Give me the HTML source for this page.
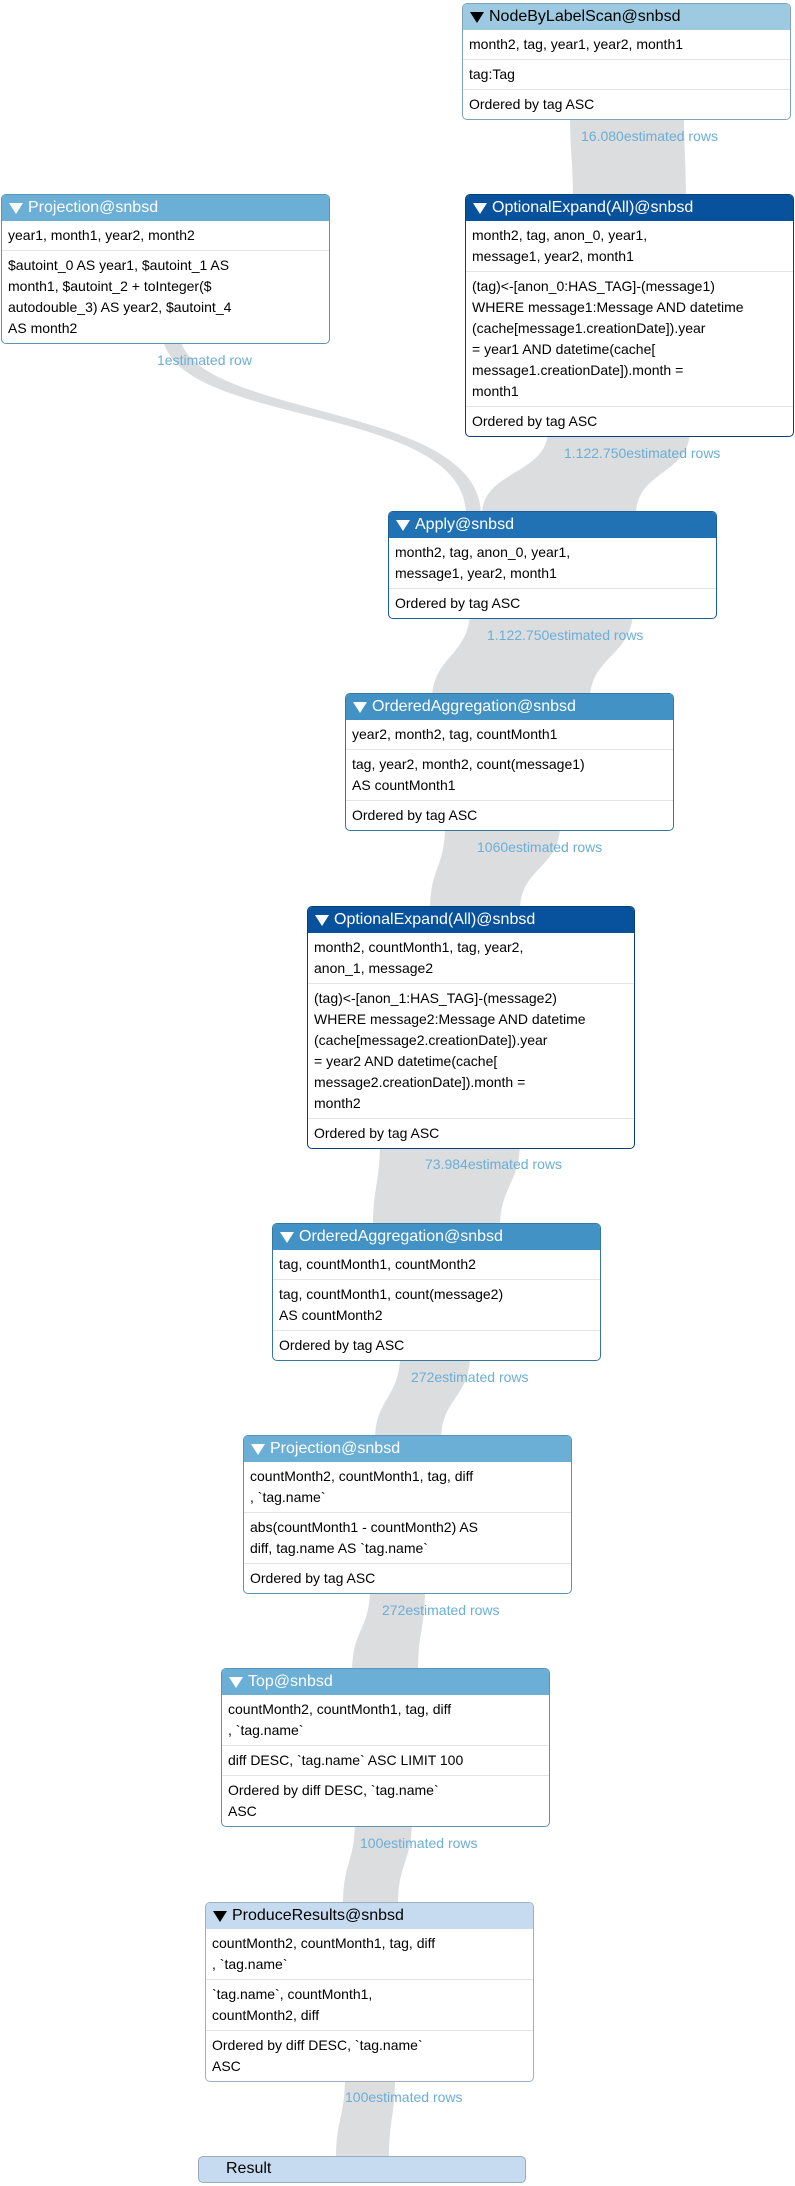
<!DOCTYPE html>
<html><head><meta charset="utf-8">
<style>
html,body{margin:0;padding:0;background:#fff;}
body{width:795px;height:2186px;position:relative;overflow:hidden;font-family:"Liberation Sans",sans-serif;}
svg.links{position:absolute;left:0;top:0;}
.box{position:absolute;width:326px;background:#fff;border:1.5px solid #2b5f8c;border-radius:5px;overflow:hidden;box-sizing:border-box;}
.hd{height:26px;line-height:26px;font-size:16px;color:#fff;padding-left:26px;position:relative;white-space:nowrap;}
.hd:before{content:"";position:absolute;left:7px;top:8px;border-left:7px solid transparent;border-right:7px solid transparent;border-top:11px solid currentColor;}
.r{font-size:14px;line-height:21px;padding:4px 6px 4px 6px;white-space:nowrap;color:#000;}
.r+.r{border-top:1.5px solid #e4e4e4;}
.lbl{position:absolute;font-size:14px;color:#6baed6;white-space:nowrap;}
</style></head><body>
<svg class="links" width="795" height="2186">
<g fill="#dcdddf">
<path d="M570 110 C570 157 573 157 573 200 L686 200 C686 157 684 157 684 110 Z"/>
<path d="M162 330 C162 430 466 400 466 515 L481 515 C481 400 179 420 179 330 Z"/>
<path d="M548 430 C548 475 482 470 482 515 L636 515 C636 470 690 475 690 430 Z"/>
<path d="M470 610 C470 656 432 656 432 700 L590 700 C590 656 633 656 633 610 Z"/>
<path d="M445 825 C445 868 430 868 430 910 L520 910 C520 868 560 868 560 825 Z"/>
<path d="M380 1140 C380 1185 373 1185 373 1228 L500 1228 C500 1185 520 1185 520 1140 Z"/>
<path d="M400 1355 C400 1398 375 1398 375 1440 L441 1440 C441 1398 470 1398 470 1355 Z"/>
<path d="M370 1588 C370 1630 352 1630 352 1672 L418 1672 C418 1630 425 1630 425 1588 Z"/>
<path d="M355 1820 C355 1862 343 1862 343 1906 L398 1906 C398 1862 412 1862 412 1820 Z"/>
<path d="M345 2075 C345 2118 336 2118 336 2160 L389 2160 C389 2118 395 2118 395 2075 Z"/>
</g>
</svg>

<div class="box" style="left:462px;top:3px;width:329px;border-color:#7fa3bd;">
<div class="hd" style="background:#9ecae1;color:#000;">NodeByLabelScan@snbsd</div>
<div class="r">month2, tag, year1, year2, month1</div>
<div class="r">tag:Tag</div>
<div class="r">Ordered by tag ASC</div>
</div>
<div class="lbl" style="left:581px;top:128px;">16.080estimated rows</div>

<div class="box" style="left:1px;top:194px;width:329px;border-color:#5a93b5;">
<div class="hd" style="background:#6baed6;">Projection@snbsd</div>
<div class="r">year1, month1, year2, month2</div>
<div class="r">$autoint_0 AS year1, $autoint_1 AS<br>month1, $autoint_2 + toInteger($<br>autodouble_3) AS year2, $autoint_4<br>AS month2</div>
</div>
<div class="lbl" style="left:157px;top:352px;">1estimated row</div>

<div class="box" style="left:465px;top:194px;width:329px;border-color:#083f7a;">
<div class="hd" style="background:#08519c;">OptionalExpand(All)@snbsd</div>
<div class="r">month2, tag, anon_0, year1,<br>message1, year2, month1</div>
<div class="r">(tag)&lt;-[anon_0:HAS_TAG]-(message1)<br>WHERE message1:Message AND datetime<br>(cache[message1.creationDate]).year<br>= year1 AND datetime(cache[<br>message1.creationDate]).month =<br>month1</div>
<div class="r">Ordered by tag ASC</div>
</div>
<div class="lbl" style="left:564px;top:445px;">1.122.750estimated rows</div>

<div class="box" style="left:388px;top:511px;width:329px;border-color:#1b5f98;">
<div class="hd" style="background:#2171b5;">Apply@snbsd</div>
<div class="r">month2, tag, anon_0, year1,<br>message1, year2, month1</div>
<div class="r">Ordered by tag ASC</div>
</div>
<div class="lbl" style="left:487px;top:627px;">1.122.750estimated rows</div>

<div class="box" style="left:345px;top:693px;width:329px;border-color:#34789f;">
<div class="hd" style="background:#4292c6;">OrderedAggregation@snbsd</div>
<div class="r">year2, month2, tag, countMonth1</div>
<div class="r">tag, year2, month2, count(message1)<br>AS countMonth1</div>
<div class="r">Ordered by tag ASC</div>
</div>
<div class="lbl" style="left:477px;top:839px;">1060estimated rows</div>

<div class="box" style="left:307px;top:906px;width:328px;border-color:#083f7a;">
<div class="hd" style="background:#08519c;">OptionalExpand(All)@snbsd</div>
<div class="r">month2, countMonth1, tag, year2,<br>anon_1, message2</div>
<div class="r">(tag)&lt;-[anon_1:HAS_TAG]-(message2)<br>WHERE message2:Message AND datetime<br>(cache[message2.creationDate]).year<br>= year2 AND datetime(cache[<br>message2.creationDate]).month =<br>month2</div>
<div class="r">Ordered by tag ASC</div>
</div>
<div class="lbl" style="left:425px;top:1156px;">73.984estimated rows</div>

<div class="box" style="left:272px;top:1223px;width:329px;border-color:#34789f;">
<div class="hd" style="background:#4292c6;">OrderedAggregation@snbsd</div>
<div class="r">tag, countMonth1, countMonth2</div>
<div class="r">tag, countMonth1, count(message2)<br>AS countMonth2</div>
<div class="r">Ordered by tag ASC</div>
</div>
<div class="lbl" style="left:411px;top:1369px;">272estimated rows</div>

<div class="box" style="left:243px;top:1435px;width:329px;border-color:#5a93b5;">
<div class="hd" style="background:#6baed6;">Projection@snbsd</div>
<div class="r">countMonth2, countMonth1, tag, diff<br>, `tag.name`</div>
<div class="r">abs(countMonth1 - countMonth2) AS<br>diff, tag.name AS `tag.name`</div>
<div class="r">Ordered by tag ASC</div>
</div>
<div class="lbl" style="left:382px;top:1602px;">272estimated rows</div>

<div class="box" style="left:221px;top:1668px;width:329px;border-color:#5a93b5;">
<div class="hd" style="background:#6baed6;">Top@snbsd</div>
<div class="r">countMonth2, countMonth1, tag, diff<br>, `tag.name`</div>
<div class="r">diff DESC, `tag.name` ASC LIMIT 100</div>
<div class="r">Ordered by diff DESC, `tag.name`<br>ASC</div>
</div>
<div class="lbl" style="left:360px;top:1835px;">100estimated rows</div>

<div class="box" style="left:205px;top:1902px;width:329px;border-color:#9db0c3;">
<div class="hd" style="background:#c6dbef;color:#000;">ProduceResults@snbsd</div>
<div class="r">countMonth2, countMonth1, tag, diff<br>, `tag.name`</div>
<div class="r">`tag.name`, countMonth1,<br>countMonth2, diff</div>
<div class="r">Ordered by diff DESC, `tag.name`<br>ASC</div>
</div>
<div class="lbl" style="left:345px;top:2089px;">100estimated rows</div>

<div style="position:absolute;left:198px;top:2156px;width:328px;height:27px;box-sizing:border-box;background:#c6dbef;border:1.5px solid #9aabbd;border-radius:5px;font-size:16px;line-height:24px;padding-left:27px;color:#000;">Result</div>
</body></html>
